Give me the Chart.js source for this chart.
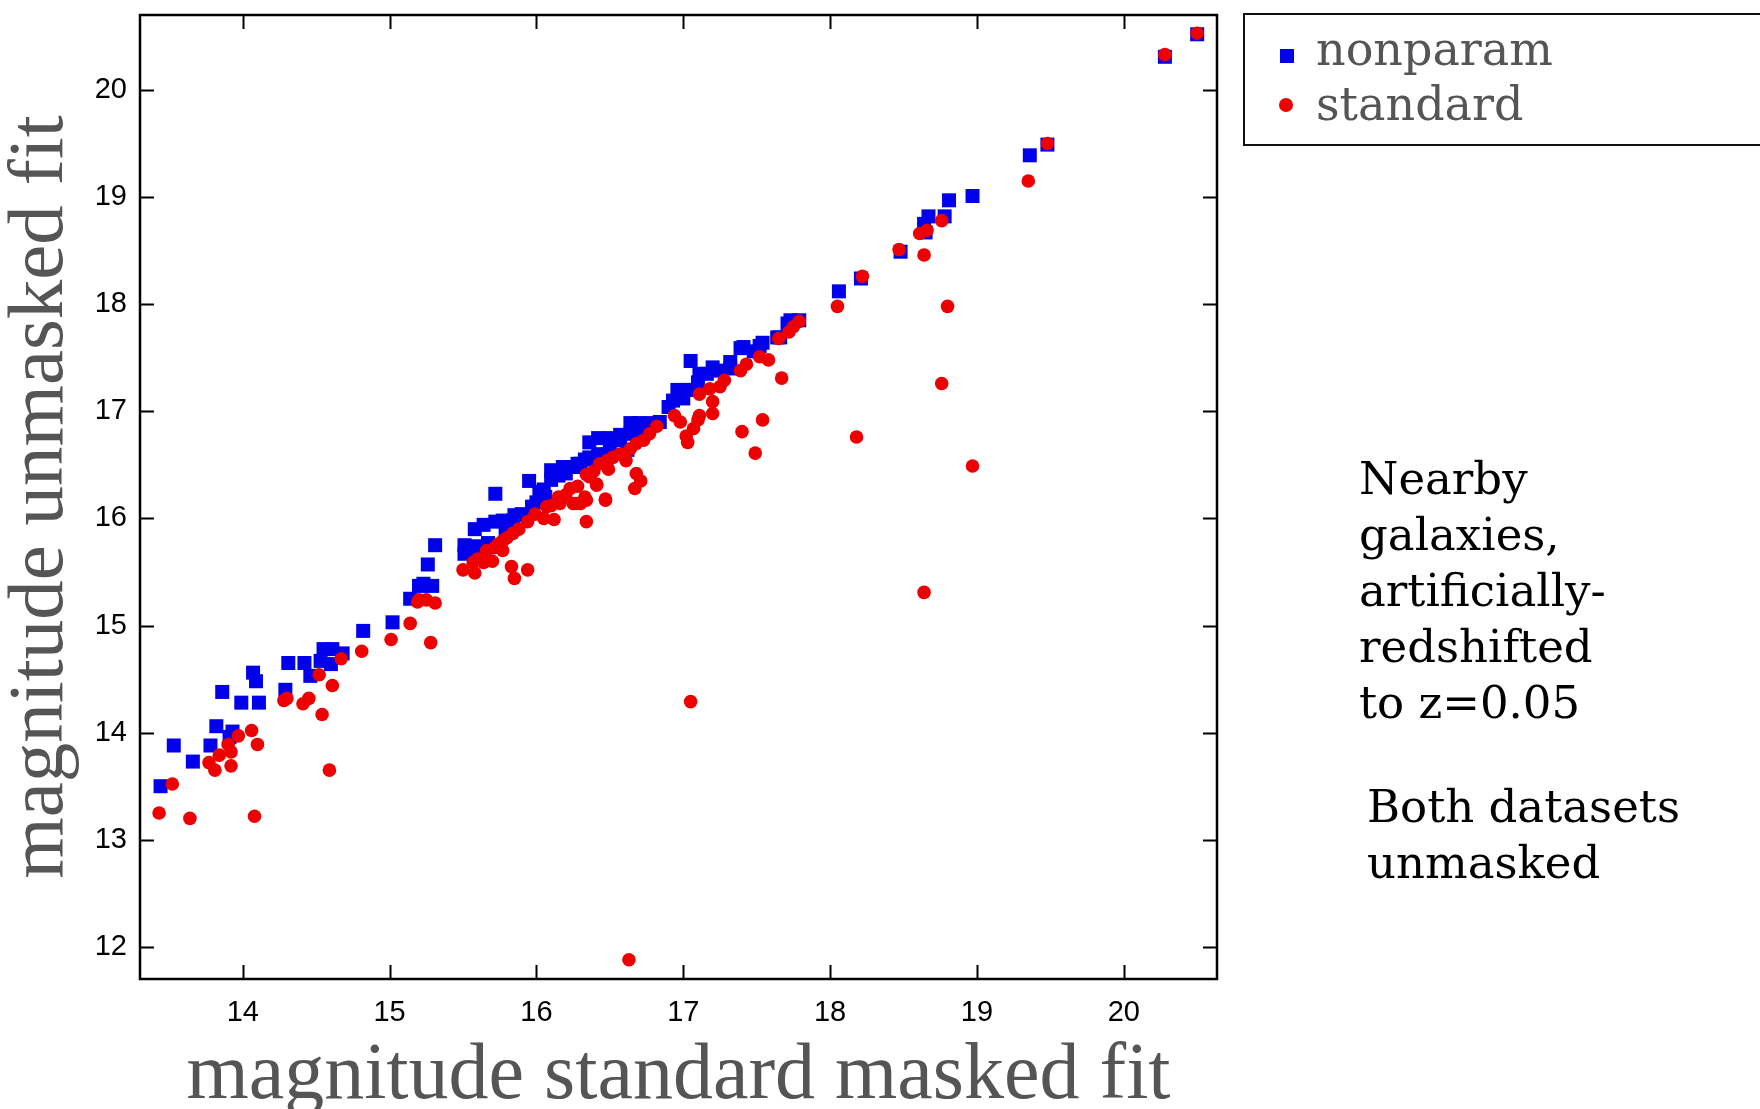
<!DOCTYPE html>
<html>
<head>
<meta charset="utf-8">
<script src="https://cdn.jsdelivr.net/npm/chart.js@4"></script>
<style>
  html, body { margin: 0; padding: 0; background: #fff; }
  #wrap { position: relative; width: 1760px; height: 1109px; overflow: hidden; background: #fff; }
  #c { position: absolute; left: 0; top: 0; }
  .legend { position: absolute; left: 1243px; top: 13px; width: 580px; height: 133px; box-sizing: border-box; border: 2.5px solid #111; }
  .lt { position: absolute; font-family: "DejaVu Serif", serif; font-size: 46px; line-height: 55px; color: #555; white-space: nowrap; }
  .mk { position: absolute; width: 14px; height: 14px; }
  .note { position: absolute; font-family: "DejaVu Serif", serif; font-size: 45px; line-height: 56px; color: #000; white-space: nowrap; }
</style>
</head>
<body>
<div id="wrap">
  <canvas id="c" width="1760" height="1109"></canvas>
  <div class="legend"></div>
  <div class="mk" id="mk1" style="left:1280px; top:49px;"></div>
  <div class="lt" id="lt1" style="left:1316px; top:22px;"></div>
  <div class="mk" id="mk2" style="left:1279px; top:98px; border-radius:50%;"></div>
  <div class="lt" id="lt2" style="left:1316px; top:77px;"></div>
  <div class="note" style="left:1359px; top:451px;">Nearby<br>galaxies,<br>artificially-<br>redshifted<br>to z=0.05</div>
  <div class="note" style="left:1367px; top:779px;">Both datasets<br>unmasked</div>
</div>
<script>
// ---- data ----
const seriesNames = ["nonparam", "standard"];
const seriesColors = ["rgb(0,0,235)", "rgb(238,0,0)"];

const nonparamX = [13.44,13.53,13.66,13.78,13.82,13.93,13.91,13.86,13.99,14.11,14.07,14.09,14.29,14.31,14.42,14.46,14.53,14.55,14.61,14.60,14.68,14.82,15.02,15.14,15.20,15.23,15.29,15.26,15.31,15.51,15.51,15.52,15.59,15.67,15.58,15.64,15.72,15.77,15.85,15.97,15.79,15.84,15.90,15.72,15.95,15.60,15.67,16.00,16.02,16.05,16.06,16.10,16.10,16.15,16.18,16.20,16.25,16.28,16.30,16.33,16.38,16.36,16.42,16.50,16.57,16.64,16.70,16.78,16.84,16.30,16.36,16.42,16.50,16.57,16.64,16.72,16.49,16.62,16.90,16.93,16.96,17.00,17.05,17.05,17.10,17.11,17.16,17.20,17.24,17.32,17.32,17.39,17.41,17.48,17.52,17.54,17.64,17.66,17.71,17.73,17.79,18.06,18.21,18.48,18.65,18.64,18.67,18.78,18.81,18.97,19.36,19.48,20.28,20.50];
const nonparamY = [13.50,13.88,13.73,13.88,14.06,14.01,13.96,14.38,14.28,14.28,14.56,14.48,14.40,14.65,14.65,14.53,14.67,14.78,14.78,14.64,14.74,14.95,15.03,15.25,15.37,15.39,15.37,15.57,15.75,15.75,15.67,15.71,15.71,15.73,15.90,15.94,15.97,15.98,16.03,16.11,15.87,15.98,16.04,16.23,16.35,15.74,15.77,16.15,16.25,16.27,16.20,16.36,16.45,16.40,16.48,16.42,16.48,16.51,16.50,16.55,16.56,16.71,16.75,16.75,16.78,16.89,16.89,16.89,16.90,16.51,16.57,16.60,16.67,16.73,16.79,16.82,16.60,16.64,17.04,17.10,17.20,17.12,17.20,17.47,17.27,17.35,17.35,17.41,17.38,17.46,17.40,17.59,17.60,17.56,17.61,17.64,17.69,17.69,17.82,17.85,17.85,18.12,18.24,18.49,18.67,18.75,18.82,18.82,18.97,19.01,19.39,19.49,20.31,20.52];

const standardX = [13.43,13.64,14.08,13.52,13.77,13.81,13.84,13.92,13.92,13.90,13.97,14.06,14.10,14.59,14.28,14.30,14.41,14.45,14.54,14.52,14.61,14.67,14.81,15.01,15.14,15.28,15.19,15.25,15.31,15.20,15.50,15.58,15.57,15.64,15.70,15.66,15.72,15.77,15.77,15.84,15.83,15.85,15.94,15.94,15.99,16.05,16.12,16.34,16.07,16.16,16.25,16.34,16.47,15.60,15.74,15.80,15.88,16.10,16.15,16.23,16.27,16.33,16.41,16.36,16.47,16.41,16.34,16.39,16.43,16.49,16.48,16.52,16.57,16.61,16.64,16.68,16.73,16.77,16.82,16.68,16.71,16.67,16.30,16.20,16.28,16.98,16.94,17.02,17.03,17.07,17.10,17.11,17.11,17.18,17.20,17.20,17.40,17.49,17.54,17.25,17.28,17.39,17.43,17.52,17.58,17.65,17.67,17.72,17.79,17.75,17.05,16.63,18.05,18.80,18.22,18.18,18.47,18.64,18.61,18.66,18.76,18.76,18.97,18.64,19.35,19.48,20.28,20.50];
const standardY = [13.25,13.20,13.22,13.52,13.72,13.65,13.79,13.69,13.82,13.89,13.97,14.02,13.89,13.65,14.30,14.32,14.27,14.32,14.17,14.54,14.44,14.69,14.76,14.87,15.02,14.84,15.22,15.24,15.21,15.24,15.52,15.49,15.59,15.59,15.60,15.70,15.73,15.70,15.79,15.86,15.55,15.44,15.52,15.97,16.04,16.00,15.99,15.97,16.11,16.14,16.14,16.17,16.17,15.62,15.76,15.82,15.90,16.12,16.20,16.28,16.14,16.20,16.32,16.39,16.18,16.31,16.41,16.44,16.51,16.46,16.54,16.57,16.60,16.54,16.65,16.70,16.73,16.79,16.86,16.42,16.35,16.28,16.14,16.22,16.30,16.90,16.96,16.77,16.71,16.84,16.92,16.96,17.16,17.21,17.09,16.98,16.81,16.61,16.92,17.23,17.29,17.38,17.44,17.51,17.48,17.68,17.31,17.74,17.84,17.79,14.29,11.88,17.98,17.98,18.26,16.76,18.51,18.46,18.66,18.69,18.78,17.26,16.49,15.31,19.15,19.50,20.33,20.53];

const xTicks = [14, 15, 16, 17, 18, 19, 20];
const yTicks = [12, 13, 14, 15, 16, 17, 18, 19, 20];
const xTitle = "magnitude standard masked fit";
const yTitle = "magnitude unmasked fit";

// ---- legend (HTML, real text) ----
document.getElementById('lt1').textContent = seriesNames[0];
document.getElementById('lt2').textContent = seriesNames[1];
document.getElementById('mk1').style.background = seriesColors[0];
document.getElementById('mk2').style.background = seriesColors[1];

const toPts = (xs, ys) => xs.map((x, i) => ({ x: x, y: ys[i] }));

// frame + inward ticks on all four sides, positioned by the chart's scales
const framePlugin = {
  id: 'frame',
  afterDatasetsDraw(chart) {
    const { ctx, chartArea: a, scales: { x, y } } = chart;
    const tl = 14;
    ctx.save();
    ctx.strokeStyle = '#000';
    ctx.lineWidth = 2;
    ctx.beginPath();
    xTicks.forEach(v => {
      const px = Math.round(x.getPixelForValue(v)) + 0.5;
      ctx.moveTo(px, a.bottom); ctx.lineTo(px, a.bottom - tl);
      ctx.moveTo(px, a.top); ctx.lineTo(px, a.top + tl);
    });
    yTicks.forEach(v => {
      const py = Math.round(y.getPixelForValue(v)) + 0.5;
      ctx.moveTo(a.left, py); ctx.lineTo(a.left + tl, py);
      ctx.moveTo(a.right, py); ctx.lineTo(a.right - tl, py);
    });
    ctx.stroke();
    ctx.lineWidth = 2.5;
    ctx.strokeRect(a.left, a.top, a.right - a.left, a.bottom - a.top);
    ctx.restore();
  }
};

new Chart(document.getElementById('c'), {
  type: 'scatter',
  data: {
    datasets: [
      {
        label: seriesNames[0],
        data: toPts(nonparamX, nonparamY),
        pointStyle: 'rect',
        pointRadius: 9.9,
        pointHoverRadius: 9.9,
        backgroundColor: seriesColors[0],
        borderColor: seriesColors[0],
        borderWidth: 0,
        order: 2
      },
      {
        label: seriesNames[1],
        data: toPts(standardX, standardY),
        pointStyle: 'circle',
        pointRadius: 6.8,
        pointHoverRadius: 6.8,
        backgroundColor: seriesColors[1],
        borderColor: seriesColors[1],
        borderWidth: 0,
        order: 1
      }
    ]
  },
  options: {
    responsive: false,
    animation: false,
    events: [],
    layout: { padding: { top: 15, right: 543, left: 0, bottom: 0 } },
    plugins: { legend: { display: false }, tooltip: { enabled: false } },
    scales: {
      x: {
        type: 'linear',
        min: 13.30, max: 20.635,
        afterFit(s) { s.height = 130; s.paddingLeft = 0; s.paddingRight = 0; s.paddingTop = 0; s.paddingBottom = 0; },
        afterBuildTicks(s) { s.ticks = xTicks.map(v => ({ value: v })); },
        grid: { display: false, drawTicks: false },
        border: { display: false },
        ticks: {
          font: { family: 'Liberation Sans', size: 29 },
          color: '#000',
          padding: 17,
          maxRotation: 0
        },
        title: {
          display: true,
          text: xTitle,
          color: '#555',
          font: { family: 'Liberation Serif', size: 80, lineHeight: 0.8 },
          padding: { top: 0, bottom: 0 }
        }
      },
      y: {
        type: 'linear',
        min: 11.70, max: 20.70,
        afterFit(s) { s.width = 140; s.paddingLeft = 0; s.paddingRight = 0; s.paddingTop = 0; s.paddingBottom = 0; },
        afterBuildTicks(s) { s.ticks = yTicks.map(v => ({ value: v })); },
        grid: { display: false, drawTicks: false },
        border: { display: false },
        ticks: {
          font: { family: 'Liberation Sans', size: 29 },
          color: '#000',
          padding: 13
        },
        title: {
          display: true,
          text: yTitle,
          color: '#555',
          font: { family: 'Liberation Serif', size: 79, lineHeight: 1 },
          padding: { top: 2, bottom: 0 }
        }
      }
    }
  },
  plugins: [framePlugin]
});
</script>
</body>
</html>
